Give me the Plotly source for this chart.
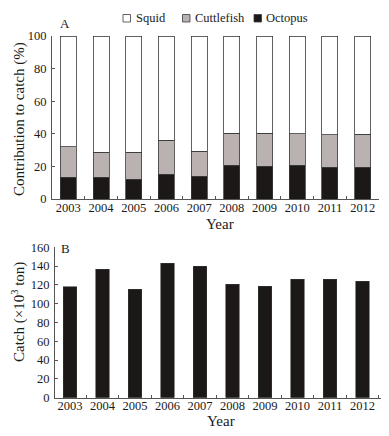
import plotly.graph_objects as go

years = ["2003", "2004", "2005", "2006", "2007", "2008", "2009", "2010", "2011", "2012"]
octopus = [13.2, 13.2, 12.2, 15.3, 14.0, 20.8, 20.0, 20.8, 19.6, 19.6]
cuttlefish_top = [32.0, 28.7, 28.7, 36.0, 29.3, 40.3, 40.3, 40.1, 39.3, 39.7]
cuttlefish = [round(c - o, 1) for c, o in zip(cuttlefish_top, octopus)]
squid = [round(100 - c, 1) for c in cuttlefish_top]
catch = [118.1, 136.5, 115.2, 142.9, 140.1, 120.6, 118.8, 126.2, 126.2, 124.1]

series_names = ["Squid", "Cuttlefish", "Octopus"]
series_colors = {"Squid": "#ffffff", "Cuttlefish": "#b9b2b0", "Octopus": "#1b1817"}

FONT = "Liberation Serif, Times New Roman, serif"
TXT = "#1a1a1a"
AX = "#555555"
EDGE = "#3a3a3a"

# page body has an 8px margin; the figure is sized to fit inside the 389x436 window
OFF = 8
W, H = 389 - 2 * OFF, 436 - 2 * OFF
def px(x):
    return (x - OFF) / W
def py(y):
    return 1 - (y - OFF) / H

fig = go.Figure()
for name, vals in [("Octopus", octopus), ("Cuttlefish", cuttlefish), ("Squid", squid)]:
    fig.add_bar(x=years, y=vals, name=name, showlegend=False,
                marker=dict(color=series_colors[name], line=dict(color=EDGE, width=0.8)),
                width=0.49, xaxis="x", yaxis="y")
fig.add_bar(x=years, y=catch, name="Catch", showlegend=False,
            marker=dict(color="#1b1817", line=dict(color=EDGE, width=0.6)),
            width=0.41, xaxis="x2", yaxis="y2")

axis_common = dict(showline=True, linecolor=AX, linewidth=1, showgrid=False, zeroline=False,
                   tickfont=dict(family=FONT, size=12.5, color=TXT), ticks="inside", tickcolor=AX, ticklen=3,
                   tickangle=0)

def ann(text, x, y, size=15, angle=0, xanchor="center"):
    return dict(text=text, x=px(x), y=py(y), xref="paper", yref="paper", showarrow=False,
                xanchor=xanchor, yanchor="middle", textangle=angle,
                font=dict(family=FONT, size=size, color=TXT))

# legend (drawn manually to match the compact original layout)
legend_box_x = [123, 182.5, 254]
legend_text_x = [133.5, 192.5, 263.5]
shapes = []
annotations = []
for name, bx, tx in zip(series_names, legend_box_x, legend_text_x):
    shapes.append(dict(type="rect", xref="paper", yref="paper",
                       x0=px(bx), x1=px(bx + 7.5), y0=py(22), y1=py(14.5),
                       fillcolor=series_colors[name], line=dict(color=EDGE, width=0.8)))
    annotations.append(ann(name, tx, 17.5, 12.5, xanchor="left"))

annotations += [
    ann("A", 65, 24, 13),
    ann("B", 65, 249, 13),
    ann("Contribution to catch (%)", 20, 119, 15, -90),
    ann("Catch (×10<sup>3</sup> ton)", 18, 312, 15, -90),
    ann("Year", 220, 224.5),
    ann("Year", 221, 420.5),
]

fig.update_layout(
    width=W, height=H, margin=dict(l=0, r=0, t=0, b=0, autoexpand=False),
    paper_bgcolor="white", plot_bgcolor="white",
    barmode="stack", bargap=0.5, showlegend=False,
    font=dict(family=FONT, color=TXT),
    xaxis=dict(domain=[px(52), px(379)], anchor="y", type="category", range=[-0.5, 9.5],
               tickson="boundaries", ticklabelstandoff=-3, **axis_common),
    yaxis=dict(domain=[py(199), py(36)], anchor="x", range=[0, 100], tickvals=[0, 20, 40, 60, 80, 100],
               ticklabelstandoff=2, **axis_common),
    xaxis2=dict(domain=[px(55), px(381)], anchor="y2", type="category", range=[-0.46, 9.57],
                tickson="boundaries", ticklabelstandoff=-4, **axis_common),
    yaxis2=dict(domain=[py(397.7), py(247.3)], anchor="x2", range=[0, 160],
                tickvals=[0, 20, 40, 60, 80, 100, 120, 140, 160], ticklabelstandoff=2, **axis_common),
    shapes=shapes,
    annotations=annotations,
)

fig.write_html("out.html")
